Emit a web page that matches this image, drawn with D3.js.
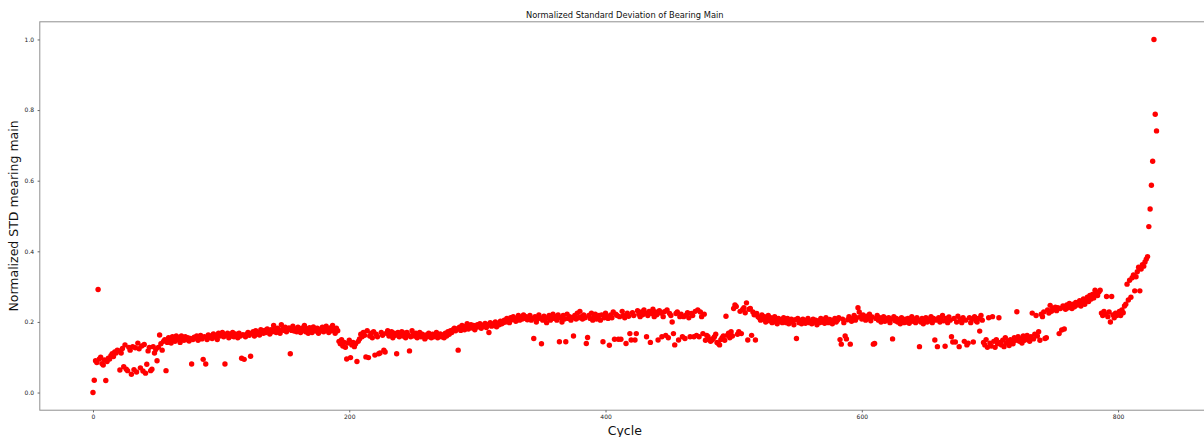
<!DOCTYPE html>
<html>
<head>
<meta charset="utf-8">
<script src="https://cdn.jsdelivr.net/npm/d3@7"></script>
<style>
  html, body { margin: 0; padding: 0; background: #fff; }
  svg { display: block; font-family: "DejaVu Sans", sans-serif; }
</style>
</head>
<body>
<svg id="chart" width="1204" height="437"></svg>
<script>
// Normalized standard deviation of the main bearing signal, one value per cycle
const stdMain = [
  0.000, 0.035, 0.090, 0.085, 0.292, 0.095, 0.100, 0.082, 0.078, 0.092, 0.034, 0.088, 0.097, 0.095, 0.104, 0.110, 0.102, 0.115, 0.112, 0.120,
  0.118, 0.064, 0.112, 0.125, 0.073, 0.135, 0.066, 0.062, 0.128, 0.120, 0.052, 0.130, 0.065, 0.127, 0.058, 0.140, 0.124, 0.070, 0.132, 0.061,
  0.136, 0.055, 0.080, 0.118, 0.128, 0.062, 0.066, 0.130, 0.112, 0.122, 0.090, 0.128, 0.163, 0.138, 0.120, 0.145, 0.150, 0.062, 0.142, 0.155,
  0.148, 0.140, 0.158, 0.152, 0.145, 0.160, 0.150, 0.155, 0.142, 0.160, 0.152, 0.148, 0.158, 0.150, 0.155, 0.146, 0.153, 0.081, 0.150, 0.157,
  0.154, 0.160, 0.148, 0.155, 0.162, 0.152, 0.094, 0.158, 0.081, 0.150, 0.163, 0.156, 0.160, 0.153, 0.166, 0.158, 0.162, 0.150, 0.168, 0.160,
  0.164, 0.170, 0.158, 0.081, 0.163, 0.168, 0.155, 0.165, 0.160, 0.170, 0.158, 0.166, 0.162, 0.155, 0.168, 0.160, 0.097, 0.164, 0.094, 0.158,
  0.165, 0.170, 0.162, 0.103, 0.168, 0.172, 0.160, 0.175, 0.166, 0.170, 0.163, 0.178, 0.172, 0.168, 0.176, 0.170, 0.180, 0.174, 0.166, 0.178,
  0.172, 0.190, 0.178, 0.170, 0.182, 0.175, 0.168, 0.192, 0.180, 0.176, 0.185, 0.172, 0.178, 0.183, 0.110, 0.176, 0.188, 0.174, 0.180, 0.172,
  0.185, 0.178, 0.170, 0.182, 0.176, 0.190, 0.172, 0.180, 0.168, 0.184, 0.176, 0.170, 0.186, 0.178, 0.174, 0.182, 0.168, 0.179, 0.175, 0.185,
  0.172, 0.180, 0.188, 0.176, 0.170, 0.183, 0.175, 0.190, 0.178, 0.168, 0.182, 0.175, 0.145, 0.138, 0.150, 0.132, 0.142, 0.128, 0.095, 0.140,
  0.148, 0.099, 0.135, 0.142, 0.130, 0.138, 0.088, 0.145, 0.152, 0.165, 0.158, 0.170, 0.162, 0.101, 0.175, 0.099, 0.160, 0.168, 0.155, 0.172,
  0.106, 0.165, 0.158, 0.110, 0.112, 0.170, 0.162, 0.120, 0.115, 0.168, 0.175, 0.160, 0.165, 0.172, 0.155, 0.168, 0.162, 0.110, 0.170, 0.158,
  0.165, 0.172, 0.160, 0.168, 0.155, 0.170, 0.163, 0.118, 0.158, 0.175, 0.165, 0.160, 0.168, 0.155, 0.162, 0.170, 0.158, 0.165, 0.160, 0.152,
  0.163, 0.158, 0.168, 0.160, 0.155, 0.165, 0.158, 0.162, 0.170, 0.155, 0.160, 0.166, 0.158, 0.163, 0.155, 0.168, 0.160, 0.172, 0.165, 0.175,
  0.170, 0.178, 0.182, 0.175, 0.180, 0.120, 0.185, 0.176, 0.190, 0.182, 0.178, 0.188, 0.195, 0.180, 0.186, 0.192, 0.183, 0.190, 0.178, 0.185,
  0.192, 0.186, 0.195, 0.182, 0.190, 0.188, 0.196, 0.184, 0.192, 0.170, 0.198, 0.188, 0.194, 0.190, 0.200, 0.186, 0.196, 0.192, 0.202, 0.195,
  0.198, 0.205, 0.200, 0.210, 0.204, 0.198, 0.212, 0.206, 0.215, 0.208, 0.202, 0.210, 0.218, 0.205, 0.212, 0.208, 0.220, 0.210, 0.215, 0.206,
  0.212, 0.218, 0.205, 0.210, 0.153, 0.215, 0.200, 0.208, 0.220, 0.212, 0.138, 0.205, 0.216, 0.210, 0.198, 0.212, 0.218, 0.205, 0.210, 0.222,
  0.210, 0.215, 0.205, 0.220, 0.144, 0.212, 0.200, 0.218, 0.208, 0.144, 0.222, 0.210, 0.215, 0.205, 0.212, 0.160, 0.218, 0.208, 0.225, 0.212,
  0.230, 0.215, 0.208, 0.220, 0.212, 0.139, 0.156, 0.218, 0.210, 0.225, 0.205, 0.215, 0.222, 0.208, 0.212, 0.218, 0.205, 0.220, 0.144, 0.212,
  0.225, 0.215, 0.210, 0.134, 0.220, 0.212, 0.228, 0.151, 0.222, 0.218, 0.151, 0.215, 0.151, 0.230, 0.218, 0.212, 0.139, 0.225, 0.216, 0.167,
  0.149, 0.226, 0.218, 0.149, 0.167, 0.232, 0.222, 0.215, 0.228, 0.220, 0.234, 0.225, 0.158, 0.218, 0.230, 0.142, 0.224, 0.236, 0.215, 0.228,
  0.220, 0.149, 0.232, 0.225, 0.158, 0.215, 0.229, 0.162, 0.234, 0.155, 0.224, 0.218, 0.200, 0.167, 0.135, 0.224, 0.228, 0.149, 0.215, 0.222,
  0.158, 0.215, 0.153, 0.220, 0.226, 0.212, 0.158, 0.224, 0.218, 0.158, 0.230, 0.162, 0.234, 0.158, 0.228, 0.215, 0.167, 0.222, 0.148, 0.162,
  0.158, 0.150, 0.145, 0.149, 0.153, 0.158, 0.165, 0.142, 0.139, 0.135, 0.150, 0.155, 0.160, 0.148, 0.216, 0.162, 0.168, 0.155, 0.172, 0.160,
  0.238, 0.248, 0.244, 0.165, 0.172, 0.230, 0.167, 0.235, 0.240, 0.226, 0.254, 0.149, 0.236, 0.238, 0.162, 0.228, 0.220, 0.149, 0.224, 0.215,
  0.212, 0.205, 0.220, 0.208, 0.215, 0.200, 0.210, 0.218, 0.203, 0.212, 0.198, 0.207, 0.215, 0.200, 0.195, 0.210, 0.202, 0.206, 0.198, 0.212,
  0.205, 0.198, 0.210, 0.195, 0.202, 0.208, 0.200, 0.192, 0.206, 0.153, 0.210, 0.198, 0.204, 0.195, 0.208, 0.200, 0.196, 0.205, 0.210, 0.198,
  0.202, 0.195, 0.208, 0.200, 0.205, 0.192, 0.203, 0.198, 0.210, 0.200, 0.206, 0.196, 0.212, 0.202, 0.198, 0.207, 0.200, 0.195, 0.205, 0.210,
  0.200, 0.205, 0.212, 0.150, 0.137, 0.208, 0.198, 0.160, 0.152, 0.206, 0.215, 0.137, 0.202, 0.210, 0.218, 0.205, 0.212, 0.240, 0.228, 0.215,
  0.208, 0.220, 0.212, 0.205, 0.216, 0.210, 0.222, 0.203, 0.214, 0.137, 0.139, 0.210, 0.218, 0.205, 0.212, 0.200, 0.208, 0.215, 0.202, 0.210,
  0.205, 0.212, 0.198, 0.208, 0.152, 0.215, 0.203, 0.210, 0.200, 0.206, 0.195, 0.212, 0.204, 0.198, 0.208, 0.200, 0.210, 0.196, 0.205, 0.215,
  0.202, 0.208, 0.198, 0.212, 0.205, 0.130, 0.200, 0.210, 0.195, 0.206, 0.212, 0.200, 0.208, 0.203, 0.215, 0.198, 0.210, 0.149, 0.205, 0.130,
  0.212, 0.200, 0.208, 0.218, 0.203, 0.131, 0.210, 0.198, 0.214, 0.205, 0.158, 0.143, 0.210, 0.143, 0.200, 0.216, 0.130, 0.207, 0.198, 0.212,
  0.145, 0.205, 0.135, 0.140, 0.212, 0.198, 0.208, 0.143, 0.215, 0.203, 0.200, 0.210, 0.174, 0.218, 0.205, 0.142, 0.135, 0.150, 0.128, 0.212,
  0.140, 0.132, 0.215, 0.145, 0.128, 0.150, 0.138, 0.212, 0.142, 0.135, 0.148, 0.130, 0.155, 0.140, 0.145, 0.133, 0.150, 0.142, 0.138, 0.155,
  0.148, 0.229, 0.158, 0.145, 0.152, 0.140, 0.160, 0.148, 0.155, 0.162, 0.150, 0.145, 0.158, 0.225, 0.152, 0.165, 0.218, 0.160, 0.172, 0.148,
  0.222, 0.215, 0.228, 0.153, 0.155, 0.234, 0.225, 0.247, 0.230, 0.238, 0.235, 0.242, 0.232, 0.240, 0.167, 0.238, 0.177, 0.245, 0.180, 0.236,
  0.248, 0.240, 0.252, 0.245, 0.238, 0.250, 0.243, 0.255, 0.248, 0.253, 0.260, 0.245, 0.258, 0.265, 0.250, 0.262, 0.270, 0.258, 0.275, 0.265,
  0.278, 0.268, 0.290, 0.282, 0.275, 0.285, 0.290, 0.225, 0.218, 0.230, 0.222, 0.272, 0.215, 0.228, 0.200, 0.272, 0.220, 0.212, 0.225, 0.218,
  0.222, 0.230, 0.218, 0.234, 0.226, 0.245, 0.250, 0.307, 0.262, 0.318, 0.270, 0.325, 0.333, 0.288, 0.328, 0.342, 0.355, 0.288, 0.350, 0.362,
  0.358, 0.370, 0.378, 0.385, 0.470, 0.520, 0.587, 0.655, 1.000, 0.788, 0.741
];

// Cycle number for each measurement
const cycles = stdMain.map((_, i) => i);

const xTicks = [0, 200, 400, 600, 800];
const yTicks = [0.0, 0.2, 0.4, 0.6, 0.8, 1.0];

const titleText = "Normalized Standard Deviation of Bearing Main";
const xLabel = "Cycle";
const yLabel = "Normalized STD mearing main";

const svg = d3.select("#chart");

// Axes box (right edge runs past the visible canvas)
const box = { left: 39.8, right: 1209.7, top: 21.8, bottom: 410.2 };

const n = cycles[cycles.length - 1];
const xPad = n * 0.05;
const x = d3.scaleLinear().domain([-xPad, n + xPad]).range([box.left, box.right]);
const y = d3.scaleLinear().domain([-0.05, 1.05]).range([box.bottom, box.top]);

// Data points
svg.append("g")
  .selectAll("circle")
  .data(cycles)
  .join("circle")
  .attr("cx", i => x(i))
  .attr("cy", i => y(stdMain[i]))
  .attr("r", 2.7)
  .attr("fill", "#ff0000");

// Frame
svg.append("rect")
  .attr("x", box.left)
  .attr("y", box.top)
  .attr("width", box.right - box.left)
  .attr("height", box.bottom - box.top)
  .attr("fill", "none")
  .attr("stroke", "#8f8f8f")
  .attr("stroke-width", 1);

// Bottom axis
const gx = svg.append("g")
  .attr("transform", `translate(0,${box.bottom})`)
  .call(d3.axisBottom(x).tickValues(xTicks).tickFormat(d3.format("d")).tickSize(2.2).tickPadding(2));
gx.select(".domain").remove();
gx.selectAll(".tick line").attr("stroke", "#666");
gx.selectAll(".tick text")
  .attr("fill", "#222")
  .style("font-family", "DejaVu Sans, sans-serif")
  .style("font-size", "6px");

// Left axis
const gy = svg.append("g")
  .attr("transform", `translate(${box.left},0)`)
  .call(d3.axisLeft(y).tickValues(yTicks).tickFormat(d3.format(".1f")).tickSize(2.2).tickPadding(3.5));
gy.select(".domain").remove();
gy.selectAll(".tick line").attr("stroke", "#666");
gy.selectAll(".tick text")
  .attr("fill", "#222")
  .style("font-family", "DejaVu Sans, sans-serif")
  .style("font-size", "6px");

// Title
svg.append("text")
  .attr("x", (box.left + box.right) / 2)
  .attr("y", 18)
  .attr("text-anchor", "middle")
  .attr("fill", "#111")
  .style("font-size", "8.3px")
  .text(titleText);

// Axis labels
svg.append("text")
  .attr("x", (box.left + box.right) / 2)
  .attr("y", 435)
  .attr("text-anchor", "middle")
  .attr("fill", "#111")
  .style("font-size", "12.5px")
  .text(xLabel);

svg.append("text")
  .attr("transform", `translate(18,${(box.top + box.bottom) / 2}) rotate(-90)`)
  .attr("text-anchor", "middle")
  .attr("fill", "#111")
  .style("font-size", "12.5px")
  .text(yLabel);
</script>
</body>
</html>
